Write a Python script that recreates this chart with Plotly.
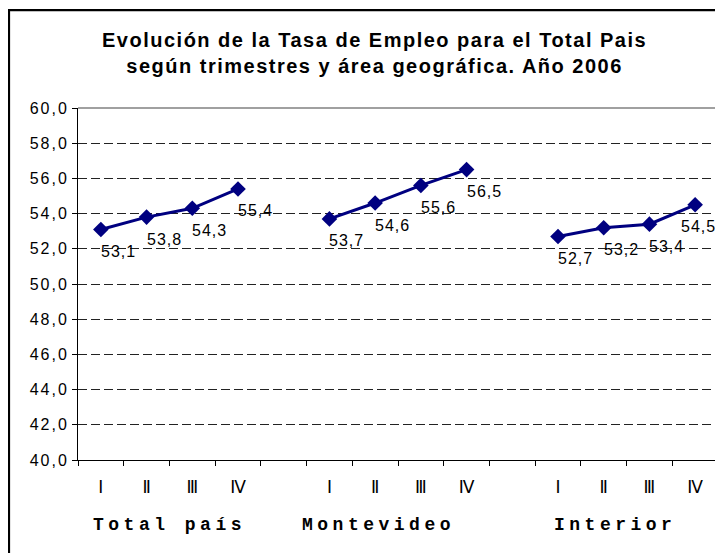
import plotly.graph_objects as go

# ---- data ----
quarters = ["Ⅰ", "Ⅱ", "Ⅲ", "Ⅳ"]
regions = ["Total país", "Montevideo", "Interior"]
total_pais = [53.1, 53.8, 54.3, 55.4]
montevideo = [53.7, 54.6, 55.6, 56.5]
interior = [52.7, 53.2, 53.4, 54.5]
series = [total_pais, montevideo, interior]
y_ticks = [40, 42, 44, 46, 48, 50, 52, 54, 56, 58, 60]

NAVY = "#000080"
FONT = "Liberation Sans, Arial, sans-serif"


def fmt(v):
    return f"{v:.1f}".replace(".", ",")


def spaced(txt, px):
    return f'<span style="letter-spacing:{px}px">{txt}</span>'


fig = go.Figure()

group_step = len(quarters) + 1
n_slots = group_step * len(regions) - 1  # 14 slots

tickvals, ticktext = [], []
for gi, (reg, vals) in enumerate(zip(regions, series)):
    xs = [gi * group_step + qi for qi in range(len(quarters))]
    tickvals += xs
    ticktext += quarters
    fig.add_trace(go.Scatter(
        x=xs, y=vals, mode="lines+markers",
        line=dict(color=NAVY, width=3),
        marker=dict(symbol="diamond", size=12, color=NAVY),
        showlegend=False, hoverinfo="skip", cliponaxis=False,
    ))
    # data labels below-right of each point
    for qi, (x, v) in enumerate(zip(xs, vals)):
        last = (gi == len(regions) - 1 and qi == len(quarters) - 1)
        if last:
            fig.add_annotation(x=1, xref="paper", y=v, yref="y",
                               xanchor="right", yanchor="middle", yshift=-22,
                               text=spaced(fmt(v), 1), showarrow=False,
                               font=dict(family=FONT, size=16, color="black"))
        else:
            fig.add_annotation(x=x, xref="x", y=v, yref="y",
                               xanchor="left", yanchor="middle",
                               xshift=-2, yshift=-22,
                               text=spaced(fmt(v), 1), showarrow=False,
                               font=dict(family=FONT, size=16, color="black"))

boundaries = [i - 0.5 for i in range(n_slots + 1)]

fig.update_xaxes(
    range=[-0.5, n_slots - 0.5],
    tickvals=tickvals, ticktext=ticktext,
    ticks="", showgrid=False, zeroline=False,
    showline=True, linecolor="black", linewidth=1,
    tickfont=dict(family="DejaVu Sans, sans-serif", size=17, color="black"),
    ticklabelstandoff=12,
    minor=dict(tickvals=boundaries, ticks="outside", ticklen=5,
               tickcolor="black", showgrid=False),
)

fig.update_yaxes(
    range=[40, 60],
    tickvals=y_ticks,
    ticktext=[spaced(fmt(v), 2) for v in y_ticks],
    ticks="outside", ticklen=5, tickcolor="black",
    showline=True, linecolor="black", linewidth=1,
    showgrid=True, gridcolor="#222", gridwidth=1, griddash="9px,4px",
    zeroline=False,
    tickfont=dict(family=FONT, size=16, color="black"),
)

# plot area border (top & right, gray)
fig.add_shape(type="line", xref="paper", yref="paper", x0=0, x1=1, y0=1, y1=1,
              line=dict(color="#808080", width=1.5))
fig.add_shape(type="line", xref="paper", yref="paper", x0=1, x1=1, y0=0, y1=1,
              line=dict(color="#808080", width=1.5))

# outer chart border (left & top visible)
fig.add_shape(type="rect", xref="paper", yref="paper",
              x0=-0.1078, x1=1.05, y0=-0.4, y1=1.278,
              line=dict(color="black", width=2.2), layer="above")

# group labels
group_x = [1.5, 6.07, 11.25]
for reg, gx in zip(regions, group_x):
    fig.add_annotation(
        x=gx, xref="x", y=-0.185, yref="paper",
        text=spaced(reg, 4.5),
        showarrow=False, xanchor="center", yanchor="middle",
        font=dict(family="Liberation Mono, Courier New, monospace", size=18,
                  color="black", weight="bold"),
    )

# title
fig.add_annotation(
    x=0.464, xref="paper", xanchor="center", y=1.155, yref="paper", yanchor="middle",
    text="<b>" + spaced("Evolución de la Tasa de Empleo para el Total Pais", 1.5)
         + "<br>" + spaced("según trimestres y área geográfica. Año 2006", 1.5) + "</b>",
    showarrow=False, font=dict(family=FONT, size=20, color="black"),
)

# page body has an 8px margin, so the figure is 8px smaller than the window
fig.update_layout(
    width=715, height=545,
    margin=dict(l=70, r=5, t=100, b=93),
    paper_bgcolor="white", plot_bgcolor="white",
    separators=",.",
)

fig.write_html("out.html")
